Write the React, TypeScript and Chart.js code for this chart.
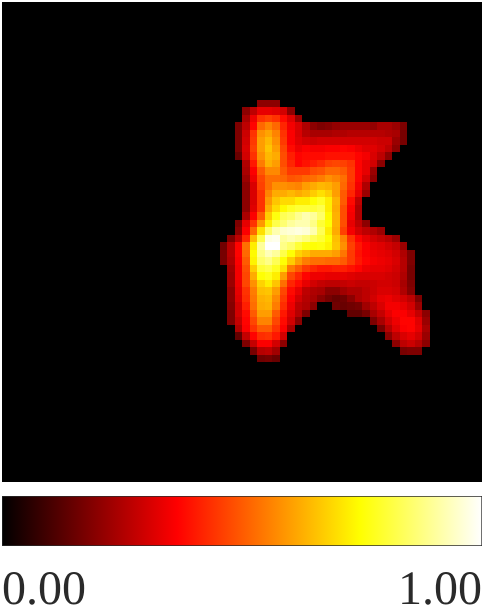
import React, { useEffect, useRef } from "react";
import { Chart, registerables } from "chart.js";

Chart.register(...registerables);

const gridSize = 64;
const firstRow = 13;
const rowStartColumns = [
  34, 32, 32, 31, 31, 31, 31, 31, 32, 32, 32, 32, 32, 32, 32, 32, 31, 31, 30, 29, 29, 29, 30, 30, 30, 30, 30, 30, 30, 30, 31, 31, 32, 33, 34,
];
const heatRows = [
  [20, 20, 20],
  [20, 27, 33, 33, 32, 30, 20],
  [24, 34, 44, 46, 44, 38, 32, 22],
  [18, 27, 37, 52, 56, 52, 42, 35, 31, 25, 20, 18, 19, 21, 22, 22, 22, 22, 21, 24, 24, 22, 18],
  [18, 29, 44, 58, 61, 56, 44, 36, 31, 26, 24, 24, 24, 25, 25, 26, 26, 26, 26, 26, 25, 24, 17],
  [18, 30, 45, 60, 64, 58, 45, 36, 32, 30, 29, 30, 30, 30, 30, 30, 30, 30, 30, 29, 29, 22, 17],
  [18, 31, 46, 60, 66, 60, 47, 38, 34, 36, 35, 35, 36, 36, 37, 36, 34, 32, 32, 30, 27, 20],
  [15, 30, 44, 58, 64, 62, 48, 41, 37, 38, 38, 38, 39, 39, 39, 39, 37, 35, 31, 27, 20],
  [25, 40, 55, 63, 60, 48, 42, 37, 39, 41, 43, 46, 47, 46, 44, 37, 33, 30, 20],
  [24, 36, 50, 57, 57, 50, 45, 45, 45, 48, 49, 52, 52, 50, 45, 37, 33, 22],
  [22, 34, 47, 53, 53, 52, 49, 50, 52, 53, 55, 58, 56, 53, 45, 37, 30, 20],
  [20, 31, 46, 53, 58, 58, 57, 56, 60, 62, 64, 63, 60, 52, 44, 35, 25],
  [20, 31, 44, 56, 62, 62, 64, 62, 64, 67, 70, 67, 60, 50, 42, 33, 22],
  [20, 31, 44, 59, 66, 69, 69, 72, 72, 75, 78, 72, 63, 50, 38, 27],
  [20, 32, 44, 62, 69, 74, 78, 80, 80, 80, 82, 72, 62, 48, 36, 25],
  [24, 36, 50, 67, 76, 83, 85, 89, 92, 90, 85, 74, 63, 48, 35, 25],
  [18, 33, 44, 59, 72, 82, 86, 90, 92, 92, 88, 80, 75, 63, 48, 33, 27, 20],
  [20, 36, 52, 70, 85, 92, 95, 96, 97, 96, 92, 83, 72, 62, 46, 35, 30, 27, 25, 22],
  [18, 27, 42, 64, 82, 97, 98, 90, 92, 90, 87, 83, 80, 75, 65, 56, 44, 37, 33, 30, 28, 26, 22],
  [16, 26, 37, 53, 72, 90, 100, 100, 88, 85, 80, 76, 75, 76, 73, 66, 58, 46, 40, 36, 33, 32, 30, 28, 22],
  [17, 26, 37, 52, 74, 88, 93, 90, 82, 75, 68, 65, 62, 62, 62, 60, 54, 45, 39, 36, 34, 33, 32, 30, 25, 18],
  [17, 25, 36, 50, 73, 85, 88, 83, 75, 67, 60, 55, 53, 53, 52, 52, 50, 45, 40, 37, 35, 34, 33, 31, 26, 18],
  [23, 35, 48, 67, 80, 82, 78, 70, 55, 50, 45, 42, 40, 40, 41, 41, 39, 37, 34, 33, 33, 32, 30, 26, 17],
  [22, 35, 47, 62, 75, 77, 72, 60, 47, 42, 37, 34, 34, 33, 33, 33, 32, 31, 31, 31, 31, 30, 29, 25, 17],
  [22, 34, 47, 58, 68, 72, 66, 53, 42, 38, 33, 30, 28, 27, 27, 28, 29, 28, 28, 29, 30, 30, 29, 24, 18],
  [20, 33, 44, 55, 65, 66, 60, 47, 38, 33, 27, 25, 24, 20, 20, 23, 25, 25, 27, 29, 31, 31, 30, 25, 19],
  [20, 32, 43, 54, 63, 64, 57, 45, 36, 30, 26, 24, 20, 17, 15, 16, 20, 25, 27, 30, 33, 34, 32, 30, 27, 18],
  [19, 30, 41, 53, 62, 63, 55, 43, 34, 27, 25, 20, 0, 0, 16, 15, 16, 17, 23, 27, 31, 35, 35, 33, 30, 22],
  [18, 30, 38, 50, 60, 60, 50, 40, 32, 26, 18, 0, 0, 0, 0, 0, 14, 14, 17, 24, 28, 33, 36, 36, 33, 28, 20],
  [18, 28, 37, 47, 56, 56, 47, 38, 30, 20, 0, 0, 0, 0, 0, 0, 0, 0, 0, 18, 24, 30, 34, 37, 37, 32, 22],
  [25, 36, 44, 50, 50, 44, 36, 24, 0, 0, 0, 0, 0, 0, 0, 0, 0, 0, 0, 17, 26, 32, 36, 37, 33, 24],
  [14, 28, 37, 43, 44, 40, 30, 0, 0, 0, 0, 0, 0, 0, 0, 0, 0, 0, 0, 0, 20, 27, 31, 33, 30, 22],
  [18, 28, 36, 36, 30, 20, 0, 0, 0, 0, 0, 0, 0, 0, 0, 0, 0, 0, 0, 0, 20, 27, 29, 26, 20],
  [17, 26, 27, 23, 0, 0, 0, 0, 0, 0, 0, 0, 0, 0, 0, 0, 0, 0, 0, 0, 17, 18, 18],
  [16, 17, 15],
];
const colorStops = [0, 0.365, 0.746, 1];
const stopColors = ["#000000", "#ff0000", "#ffff00", "#ffffff"];
const colorbarRange = [0, 1];
const colorbarLabel = ["scale"];
const textColor = "#2a2a2a";

function hot(v: number): string {
  const r = Math.min(1, v / colorStops[1]);
  const g = Math.max(0, Math.min(1, (v - colorStops[1]) / (colorStops[2] - colorStops[1])));
  const b = Math.max(0, Math.min(1, (v - colorStops[2]) / (colorStops[3] - colorStops[2])));
  return `rgb(${Math.round(r * 255)},${Math.round(g * 255)},${Math.round(b * 255)})`;
}

function heatPoints() {
  const points: { x: number; y: number; v: number }[] = [];
  for (let r = 0; r < gridSize; r++) {
    for (let c = 0; c < gridSize; c++) {
      const row = heatRows[r - firstRow];
      const value = row ? row[c - rowStartColumns[r - firstRow]] : undefined;
      points.push({ x: c + 0.5, y: r + 0.5, v: (value ?? 0) / 100 });
    }
  }
  return points;
}

const cellPlugin = {
  id: "cells",
  afterDatasetsDraw(chart: any) {
    const { ctx, scales } = chart;
    const { x, y } = scales;
    ctx.save();
    for (const p of chart.data.datasets[0].data) {
      const left = Math.round(x.getPixelForValue(p.x - 0.5));
      const right = Math.round(x.getPixelForValue(p.x + 0.5));
      const top = Math.round(y.getPixelForValue(p.y - 0.5));
      const bottom = Math.round(y.getPixelForValue(p.y + 0.5));
      ctx.fillStyle = hot(p.v);
      ctx.fillRect(left, top, right - left, bottom - top);
    }
    ctx.restore();
  },
};

const smoothTextPlugin = {
  id: "smoothText",
  beforeDraw(chart: any) {
    chart.ctx.textRendering = "geometricPrecision";
  },
};

export default function App() {
  const heatRef = useRef<HTMLCanvasElement>(null);
  const barRef = useRef<HTMLCanvasElement>(null);

  useEffect(() => {
    const heat = new Chart(heatRef.current!, {
      type: "scatter",
      data: { datasets: [{ data: heatPoints(), pointRadius: 0 }] },
      options: {
        animation: false,
        responsive: false,
        layout: { padding: { left: 2, right: 2, top: 2, bottom: 8 } },
        plugins: { legend: { display: false }, tooltip: { enabled: false } },
        scales: {
          x: { type: "linear", min: 0, max: gridSize, display: false },
          y: { type: "linear", min: 0, max: gridSize, reverse: true, display: false },
        },
      },
      plugins: [cellPlugin],
    } as any);

    const bar = new Chart(barRef.current!, {
      type: "bar",
      data: {
        labels: colorbarLabel,
        datasets: [
          {
            data: [colorbarRange],
            barPercentage: 1,
            categoryPercentage: 1,
            borderWidth: 1,
            borderColor: textColor,
            borderSkipped: false,
            backgroundColor: (ctx: any) => {
              const area = ctx.chart.chartArea;
              if (!area) return "#000";
              const g = ctx.chart.ctx.createLinearGradient(area.left, 0, area.right, 0);
              colorStops.forEach((s, i) => g.addColorStop(s, stopColors[i]));
              return g;
            },
          },
        ],
      },
      options: {
        indexAxis: "y",
        animation: false,
        responsive: false,
        layout: { padding: { left: 2, right: 2, top: 6, bottom: 0 } },
        plugins: { legend: { display: false }, tooltip: { enabled: false } },
        scales: {
          y: { display: false },
          x: {
            type: "linear",
            min: colorbarRange[0],
            max: colorbarRange[1],
            afterBuildTicks: (s: any) => {
              s.ticks = colorbarRange.map((value) => ({ value }));
            },
            afterFit: (s: any) => {
              s.height = 61;
              s.paddingLeft = 0;
              s.paddingRight = 0;
            },
            grid: { display: false },
            border: { display: false },
            ticks: {
              align: "inner",
              autoSkip: false,
              maxRotation: 0,
              padding: 9,
              color: textColor,
              font: { family: "'Liberation Serif'", size: 48 },
              callback: (v: any) => Number(v).toFixed(2),
            },
          },
        },
      },
      plugins: [smoothTextPlugin],
    } as any);

    return () => {
      heat.destroy();
      bar.destroy();
    };
  }, []);

  return (
    <div style={{ position: "absolute", left: 0, top: 0, width: 484, height: 607, background: "#fff", overflow: "hidden" }}>
      <canvas ref={heatRef} width={484} height={490} style={{ position: "absolute", left: 0, top: 0, width: 484, height: 490 }} />
      <canvas ref={barRef} width={484} height={117} style={{ position: "absolute", left: 0, top: 490, width: 484, height: 117 }} />
    </div>
  );
}
